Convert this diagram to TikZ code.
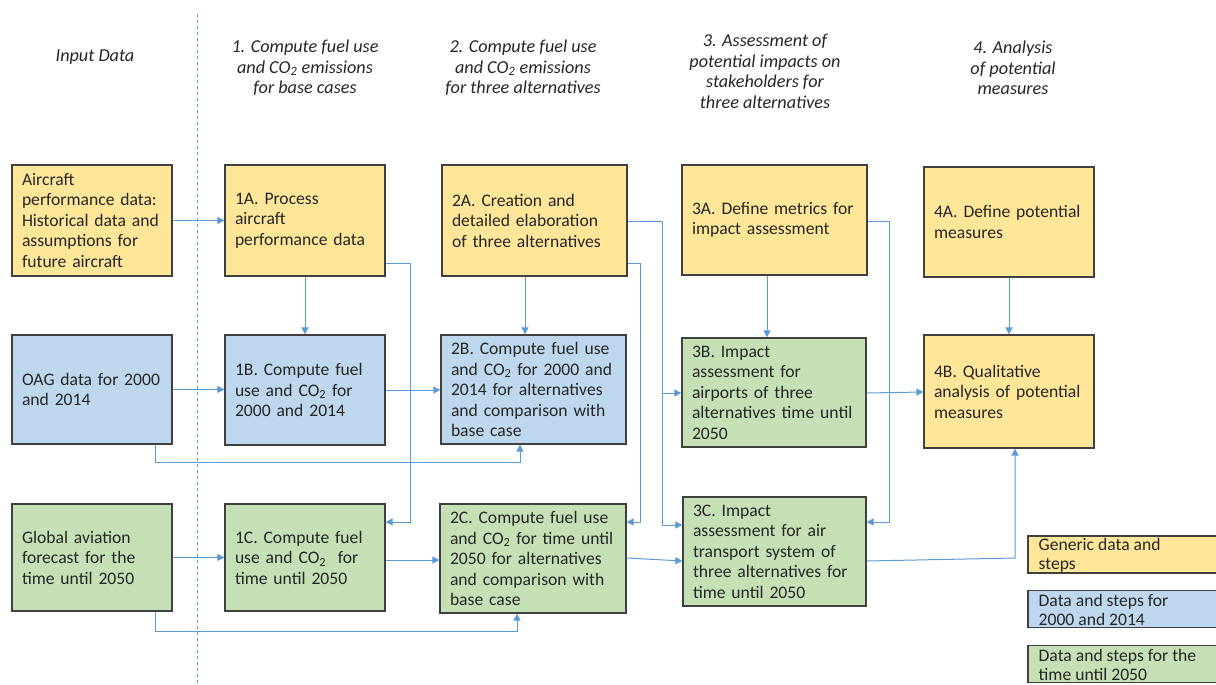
\documentclass[tikz,border=0pt]{standalone}
\usepackage{fontspec}
\setmainfont{Carlito}
\usetikzlibrary{arrows.meta}
\definecolor{yel}{HTML}{FFE699}
\definecolor{blu}{HTML}{BDD7EE}
\definecolor{grn}{HTML}{C5E0B4}
\definecolor{con}{HTML}{5B9BD5}
\definecolor{edge}{HTML}{404040}
\definecolor{txt}{HTML}{262626}
\begin{document}
\begin{tikzpicture}[x=1pt,y=-1pt,
  boxbase/.style={draw=edge, line width=1.3pt, inner xsep=10pt, inner ysep=0pt, align=left,
    font=\fontsize{17.6}{20.5}\selectfont, text=txt, anchor=center},
  ybox/.style={boxbase, fill=yel},
  bbox/.style={boxbase, fill=blu},
  gbox/.style={boxbase, fill=grn},
  head/.style={align=center, font=\fontsize{18.2}{20.5}\selectfont\itshape, text=txt, inner sep=0pt},
  conn/.style={draw=con, line width=1pt, -{Triangle[length=7pt,width=7pt]}},
  legbox/.style={draw=edge, line width=1.1pt, minimum width=192pt, minimum height=37pt, inner sep=0pt},
  legtext/.style={anchor=west, align=left, font=\fontsize{17.6}{19}\selectfont, text=txt, inner sep=0pt}
]
\useasboundingbox (0,0) rectangle (1216,685);

% divider
\draw[draw=con, line width=0.8pt, dash pattern=on 3pt off 3pt] (197,14) -- (197,685);

% headers
\node[head] (h0) at (95,57) {Input Data};
\node[head] (h1) at (305,68) {1. Compute fuel use\\and CO\textsubscript{2} emissions\\for base cases};
\node[head] (h2) at (523,68) {2. Compute fuel use\\and CO\textsubscript{2} emissions\\for three alternatives};
\node[head] (h3) at (765,71.5) {3. Assessment of\\potential impacts on\\stakeholders for\\three alternatives};
\node[head] (h4) at (1013,68) {4. Analysis\\of potential\\measures};

% row A
\node[ybox, minimum width=160pt, text width=140pt, minimum height=111pt] (inA) at (92,220.5)
  {Aircraft\\performance data:\\Historical data and\\assumptions for\\future aircraft};
\node[ybox, minimum width=160pt, text width=140pt, minimum height=111pt] (a1) at (305,220.5)
  {1A. Process\\aircraft\\performance data};
\node[ybox, minimum width=185pt, text width=165pt, minimum height=111pt] (a2) at (534.5,220.5)
  {2A. Creation and\\detailed elaboration\\of three alternatives};
\node[ybox, minimum width=185pt, text width=165pt, minimum height=110pt] (a3) at (774.5,220)
  {3A. Define metrics for\\impact assessment};
\node[ybox, minimum width=170pt, text width=150pt, minimum height=110pt] (a4) at (1009,222)
  {4A. Define potential\\measures};

% row B
\node[bbox, minimum width=160pt, text width=140pt, minimum height=109pt] (inB) at (92,389.5)
  {OAG data for 2000\\and 2014};
\node[bbox, minimum width=160pt, text width=140pt, minimum height=110pt] (b1) at (305,390)
  {1B. Compute fuel\\use and CO\textsubscript{2} for\\2000 and 2014};
\node[bbox, minimum width=185pt, text width=165pt, minimum height=109pt] (b2) at (533.5,389.5)
  {2B. Compute fuel use\\and CO\textsubscript{2} for 2000 and\\2014 for alternatives\\and comparison with\\base case};
\node[gbox, minimum width=184pt, text width=164pt, minimum height=109pt] (b3) at (774,392.5)
  {3B. Impact\\assessment for\\airports of three\\alternatives time until\\2050};
\node[ybox, minimum width=170pt, text width=150pt, minimum height=113pt] (b4) at (1009,391.5)
  {4B. Qualitative\\analysis of potential\\measures};

% row C
\node[gbox, minimum width=160pt, text width=140pt, minimum height=107pt] (inC) at (92,557.5)
  {Global aviation\\forecast for the\\time until 2050};
\node[gbox, minimum width=160pt, text width=140pt, minimum height=107pt] (c1) at (305,557.5)
  {1C. Compute fuel\\use and CO\textsubscript{2}\ \ for\\time until 2050};
\node[gbox, minimum width=186pt, text width=166pt, minimum height=109pt] (c2) at (533,558.5)
  {2C. Compute fuel use\\and CO\textsubscript{2} for time until\\2050 for alternatives\\and comparison with\\base case};
\node[gbox, minimum width=183pt, text width=163pt, minimum height=109pt] (c3) at (774.5,551.5)
  {3C. Impact\\assessment for air\\transport system of\\three alternatives for\\time until 2050};

% legend
\node[legbox, fill=yel] (l1) at (1124,554.5) {};
\node[legbox, fill=blu] (l2) at (1124,609) {};
\node[legbox, fill=grn] (l3) at (1124,664) {};
\node[legtext] (t1) at ([xshift=11pt,yshift=-1pt]l1.west) {Generic data and\\steps};
\node[legtext] (t2) at ([xshift=11pt,yshift=-1pt]l2.west) {Data and steps for\\2000 and 2014};
\node[legtext] (t3) at ([xshift=11pt,yshift=-1pt]l3.west) {Data and steps for the\\time until 2050};

% connectors
\draw[conn] (inA.east) -- (inA.east -| a1.west);
\draw[conn] (a1.south) -- (b1.north);
\draw[conn] (inB.east) -- (inB.east -| b1.west);
\draw[conn] (b1.east) -- (b1.east -| b2.west);
\draw[conn] (a1.east |- 0,263) -- ++(25,0) |- (c1.east |- 0,522);
\draw[conn] (inB.south -| 155,0) |- (520,462) -- (b2.south -| 520,0);
\draw[conn] (inC.south -| 155,0) |- (517,631) -- (c2.south -| 517,0);
\draw[conn] (inC.east) -- (inC.east -| c1.west);
\draw[conn] (c1.east |- 0,560) -- (c2.west |- 0,560);
\coordinate (j1) at (662,393);
\draw[conn] (a2.east |- 0,221) -- (662,221) |- (c3.west |- 0,525);
\draw[conn] (j1) -- (b3.west |- j1);
\draw[conn] (a2.east |- 0,263) -- (640,263) |- (c2.east |- 0,522);
\draw[conn] (a3.east |- 0,221) -- (889,221) |- (c3.east |- 0,522);
\draw[conn] (a2.south -| 525,0) -- (b2.north -| 525,0);
\draw[conn] (a3.south -| 767,0) -- (b3.north -| 767,0);
\draw[conn] (a4.south) -- (b4.north);
\draw[conn] (b3.east |- 0,393) -- (b4.west |- 0,392);
\draw[conn] (c2.east |- 0,558) -- (c3.west |- 0,561);
\draw[conn] (c3.east |- 0,561) -- (1015,558) -- (b4.south -| 1015,0);
\end{tikzpicture}
\end{document}
